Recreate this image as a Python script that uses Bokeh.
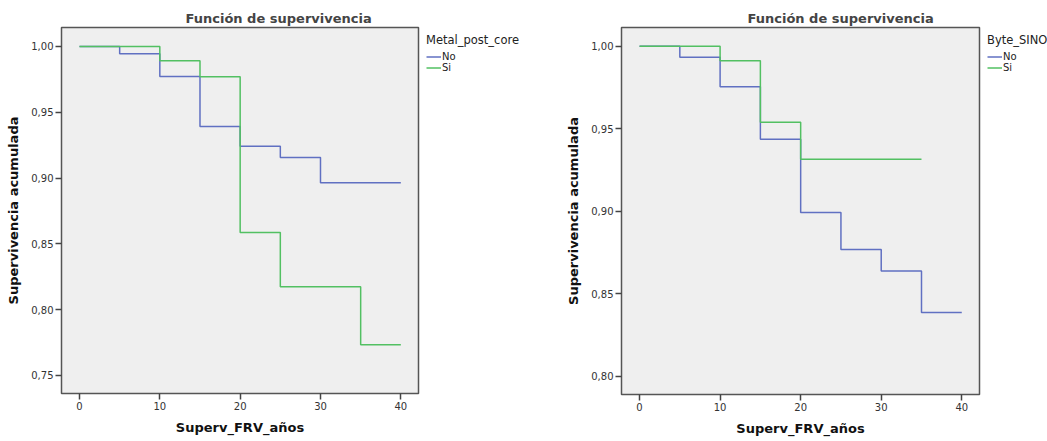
from bokeh.plotting import figure
from bokeh.layouts import row
from bokeh.models import Range1d, FixedTicker, CustomJSTickFormatter, Legend, LegendItem
from bokeh.embed import file_html
from bokeh.resources import INLINE

# ---- data (Kaplan-Meier step values) ----
left_times_no = [0, 5, 10, 15, 20, 25, 30, 40]
left_surv_no = [1.0, 0.9944, 0.9772, 0.9392, 0.9242, 0.9157, 0.8964, 0.8964]
left_times_si = [0, 10, 15, 20, 25, 35, 40]
left_surv_si = [1.0, 0.9891, 0.9769, 0.8587, 0.8174, 0.7733, 0.7733]

right_times_no = [0, 5, 10, 15, 20, 25, 30, 35, 40]
right_surv_no = [1.0, 0.9933, 0.9754, 0.9437, 0.8993, 0.8769, 0.8638, 0.8388, 0.8388]
right_times_si = [0, 10, 15, 20, 35]
right_surv_si = [1.0, 0.9912, 0.954, 0.9316, 0.9316]

x_ticks = [0, 10, 20, 30, 40]
left_y_ticks = [0.75, 0.80, 0.85, 0.90, 0.95, 1.00]
right_y_ticks = [0.80, 0.85, 0.90, 0.95, 1.00]
group_labels = ["No", "Si"]

title_text = "Función de supervivencia"
x_label = "Superv_FRV_años"
y_label = "Supervivencia acumulada"

BLUE = "#6070c2"
GREEN = "#52c062"
FONT = "DejaVu Sans"


def make_panel(fw, fh, bl, bb, yr, yticks, tx_no, sy_no, tx_si, sy_si, title_offset):
    p = figure(frame_width=fw, frame_height=fh, output_backend="svg", toolbar_location=None,
               x_range=Range1d(-2.24, 42.2), y_range=Range1d(*yr),
               min_border_left=bl, min_border_right=2, min_border_top=27, min_border_bottom=bb,
               background_fill_color="#efefef", border_fill_color="white",
               outline_line_color="#555555", outline_line_width=1.5)
    p.title.text = title_text
    p.title.text_font = FONT
    p.title.text_font_size = "13px"
    p.title.text_font_style = "bold"
    p.title.align = "left"
    p.title.offset = title_offset
    p.title.standoff = 4
    p.grid.visible = False

    for ax in (p.xaxis[0], p.yaxis[0]):
        ax.axis_line_color = None
        ax.major_tick_line_color = "#444444"
        ax.major_tick_line_width = 1.5
        ax.major_tick_out = 6
        ax.major_tick_in = 0
        ax.minor_tick_line_color = None
        ax.major_label_text_font = FONT
        ax.major_label_text_font_size = "10px"
        ax.major_label_text_color = "#333333"
        ax.axis_label_text_font = FONT
        ax.axis_label_text_font_size = "13px"
        ax.axis_label_text_font_style = "bold"
        ax.axis_label_text_color = "#111111"
        ax.major_label_standoff = 2

    p.xaxis.ticker = FixedTicker(ticks=x_ticks)
    p.yaxis.ticker = FixedTicker(ticks=yticks)
    p.yaxis.formatter = CustomJSTickFormatter(code="return tick.toFixed(2).replace('.', ',')")
    p.xaxis.axis_label = x_label
    p.yaxis.axis_label = y_label
    p.xaxis.axis_label_standoff = 7
    p.yaxis.axis_label_standoff = 7

    p.step(tx_no, sy_no, mode="after", line_color=BLUE, line_width=1.5)
    p.step(tx_si, sy_si, mode="after", line_color=GREEN, line_width=1.5)
    return p


def make_legend(fw, fh, bb, legend_title):
    q = figure(frame_width=fw, frame_height=fh, output_backend="svg", toolbar_location=None,
               x_range=Range1d(0, 1), y_range=Range1d(0, 1),
               min_border_left=0, min_border_right=0, min_border_top=27, min_border_bottom=bb,
               outline_line_color=None, background_fill_color="white", border_fill_color="white")
    q.axis.visible = False
    q.grid.visible = False
    # legend-only renderers, kept outside the visible range
    r_no = q.line([-5, -4], [-5, -5], line_color=BLUE, line_width=1.5)
    r_si = q.line([-5, -4], [-5, -5], line_color=GREEN, line_width=1.5)
    leg = Legend(items=[LegendItem(label=group_labels[0], renderers=[r_no]),
                        LegendItem(label=group_labels[1], renderers=[r_si])],
                 title=legend_title, location="top_left",
                 margin=6, padding=0, spacing=0,
                 glyph_width=15, glyph_height=11, label_height=11,
                 label_standoff=1, title_standoff=4,
                 label_text_font=FONT, label_text_font_size="10px",
                 title_text_font=FONT, title_text_font_size="11.5px",
                 title_text_font_style="normal", title_text_color="#222222",
                 label_text_color="#222222",
                 border_line_color=None, background_fill_alpha=0)
    q.add_layout(leg, "center")
    return q


p1 = make_panel(357, 366, 61, 48, (0.7363, 1.0144), left_y_ticks,
                left_times_no, left_surv_no, left_times_si, left_surv_si, 124)
l1 = make_legend(120, 366, 48, "Metal_post_core")
p2 = make_panel(358, 367, 81, 47, (0.7891, 1.0113), right_y_ticks,
                right_times_no, right_surv_no, right_times_si, right_surv_si, 126)
l2 = make_legend(66, 367, 47, "Byte_SINO")

layout = row(p1, l1, p2, l2)
open("out.html", "w").write(file_html(layout, INLINE))
